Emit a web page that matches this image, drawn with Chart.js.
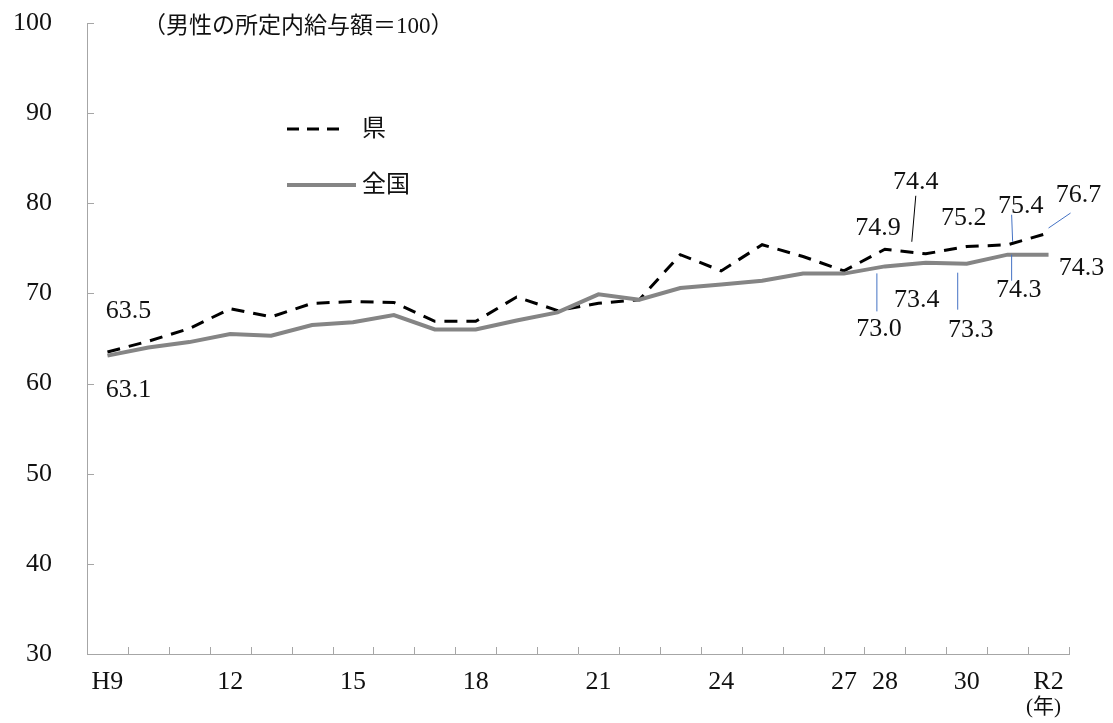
<!DOCTYPE html>
<html lang="ja">
<head>
    <meta charset="UTF-8">
    <title>所定内給与額の男女間格差</title>
    <script src="https://cdn.jsdelivr.net/npm/chart.js"></script>
    <style>
        html, body { margin: 0; padding: 0; background: #fff; }
        #wrap { width: 1113px; height: 723px; position: relative; }
    </style>
</head>
<body>
    <div id="wrap"><canvas id="gapChart"></canvas></div>

    <script>
        // 年（H9 ～ R2）
        const years = ['H9', 'H10', 'H11', 'H12', 'H13', 'H14', 'H15', 'H16', 'H17', 'H18', 'H19', 'H20',
            'H21', 'H22', 'H23', 'H24', 'H25', 'H26', 'H27', 'H28', 'H29', 'H30', 'R1', 'R2'];
        const tickLabels = ['H9', '', '', '12', '', '', '15', '', '', '18', '', '',
            '21', '', '', '24', '', '', '27', '28', '', '30', '', 'R2'];
        const kenValues = [63.5, 64.7, 66.1, 68.3, 67.4, 68.9, 69.1, 69.0, 66.9, 66.9, 69.6, 68.1,
            68.9, 69.3, 74.3, 72.5, 75.4, 74.1, 72.5, 74.9, 74.4, 75.2, 75.4, 76.7];
        const zenkokuValues = [63.1, 64.0, 64.6, 65.5, 65.3, 66.5, 66.8, 67.6, 66.0, 66.0, 67.0, 67.9,
            69.9, 69.3, 70.6, 71.0, 71.4, 72.2, 72.2, 73.0, 73.4, 73.3, 74.3, 74.3];
        const yTicks = [30, 40, 50, 60, 70, 80, 90, 100];

        const FONT = "'Liberation Serif', 'Noto Sans CJK JP', serif";
        const BLUE = '#4472c4';

        // value labels: offsets from the point, optional leader line (from/to offsets)
        const callouts = [
            { ds: 0, i: 0, dx: 21, dy: -41 },
            { ds: 1, i: 0, dx: 21, dy: 35 },
            { ds: 0, i: 19, dx: -7, dy: -21 },
            { ds: 1, i: 19, dx: -6, dy: 63, line: [-8, 7, -8, 45], color: BLUE },
            { ds: 0, i: 20, dx: -10, dy: -72, line: [-10, -58, -14, -12], color: '#000' },
            { ds: 1, i: 20, dx: -9, dy: 37 },
            { ds: 0, i: 21, dx: -3, dy: -28 },
            { ds: 1, i: 21, dx: 4, dy: 66, line: [-9, 9, -9, 46], color: BLUE },
            { ds: 0, i: 22, dx: 13, dy: -39, line: [4, -30, 5, -3], color: BLUE },
            { ds: 1, i: 22, dx: 11, dy: 36, line: [4, 0, 4, 26], color: BLUE },
            { ds: 0, i: 23, dx: 30, dy: -38, line: [22, -20, 0, -5], color: BLUE },
            { ds: 1, i: 23, dx: 33, dy: 14 }
        ];

        const decorPlugin = {
            id: 'decor',
            afterDraw(chart) {
                const ctx = chart.ctx;
                const xs = chart.scales.x, ys = chart.scales.y;
                const area = chart.chartArea;
                ctx.save();

                // tick marks pointing inward
                ctx.strokeStyle = '#a6a6a6';
                ctx.lineWidth = 1;
                ctx.beginPath();
                const n = years.length;
                const step = (area.right - area.left) / n;
                for (let k = 0; k <= n; k++) {
                    const x = Math.round(area.left + k * step) + 0.5;
                    ctx.moveTo(x, area.bottom);
                    ctx.lineTo(x, area.bottom - 7);
                }
                yTicks.forEach(v => {
                    const y = Math.round(ys.getPixelForValue(v)) + 0.5;
                    ctx.moveTo(area.left, y);
                    ctx.lineTo(area.left + 7, y);
                });
                ctx.stroke();

                // value labels
                ctx.font = '26px ' + FONT;
                ctx.fillStyle = '#111';
                ctx.textAlign = 'center';
                ctx.textBaseline = 'middle';
                callouts.forEach(c => {
                    const val = c.ds === 0 ? kenValues[c.i] : zenkokuValues[c.i];
                    const px = xs.getPixelForValue(c.i);
                    const py = ys.getPixelForValue(val);
                    if (c.line) {
                        ctx.strokeStyle = c.color;
                        ctx.lineWidth = 1;
                        ctx.beginPath();
                        ctx.moveTo(px + c.line[0], py + c.line[1]);
                        ctx.lineTo(px + c.line[2], py + c.line[3]);
                        ctx.stroke();
                    }
                    ctx.fillText(val.toFixed(1), px + c.dx, py + c.dy);
                });

                // legend
                const lx = area.left + 200;
                ctx.lineCap = 'butt';
                ctx.strokeStyle = '#000';
                ctx.lineWidth = 3;
                ctx.setLineDash([12, 8]);
                ctx.beginPath();
                ctx.moveTo(lx, 129);
                ctx.lineTo(lx + 60, 129);
                ctx.stroke();
                ctx.setLineDash([]);
                ctx.strokeStyle = '#858585';
                ctx.lineWidth = 4;
                ctx.beginPath();
                ctx.moveTo(lx, 185);
                ctx.lineTo(lx + 69, 185);
                ctx.stroke();
                ctx.textAlign = 'left';
                ctx.fillStyle = '#111';
                ctx.font = '24px ' + FONT;
                ctx.fillText('県', lx + 75, 130);
                ctx.fillText('全国', lx + 75, 186);

                // unit notes
                ctx.font = '23px ' + FONT;
                ctx.fillText('（男性の所定内給与額＝100）', 143, 27);
                ctx.font = '21px ' + FONT;
                ctx.textAlign = 'center';
                ctx.fillText('(年)', xs.getPixelForValue(n - 1) - 5, 707);

                ctx.restore();
            }
        };

        const ctx = document.getElementById('gapChart').getContext('2d');
        new Chart(ctx, {
            type: 'line',
            data: {
                labels: years,
                datasets: [
                    {
                        label: '県',
                        data: kenValues,
                        borderColor: '#000',
                        borderWidth: 3,
                        borderDash: [13, 9],
                        pointRadius: 0,
                        tension: 0,
                        order: 2
                    },
                    {
                        label: '全国',
                        data: zenkokuValues,
                        borderColor: '#858585',
                        borderWidth: 4,
                        pointRadius: 0,
                        tension: 0,
                        order: 1
                    }
                ]
            },
            options: {
                responsive: true,
                maintainAspectRatio: false,
                animation: false,
                layout: { padding: { top: 23, right: 44, left: 0, bottom: 0 } },
                plugins: {
                    legend: { display: false },
                    tooltip: { enabled: false }
                },
                scales: {
                    x: {
                        offset: true,
                        grid: { display: false, drawTicks: false },
                        border: { display: true, color: '#a6a6a6', width: 1 },
                        ticks: {
                            autoSkip: false,
                            maxRotation: 0,
                            padding: 13,
                            color: '#111',
                            font: { size: 26, family: FONT },
                            callback: (v, i) => tickLabels[i]
                        },
                        afterFit: scale => {
                            scale.height = 69;
                            scale.paddingLeft = 0;
                            scale.paddingRight = 0;
                        }
                    },
                    y: {
                        min: 30,
                        max: 100,
                        grid: { display: false, drawTicks: false },
                        border: { display: true, color: '#a6a6a6', width: 1 },
                        ticks: {
                            stepSize: 10,
                            padding: 35,
                            color: '#111',
                            font: { size: 26, family: FONT }
                        },
                        afterFit: scale => {
                            scale.width = 87;
                            scale.paddingTop = 0;
                            scale.paddingBottom = 0;
                        }
                    }
                }
            },
            plugins: [decorPlugin]
        });
    </script>
</body>
</html>
